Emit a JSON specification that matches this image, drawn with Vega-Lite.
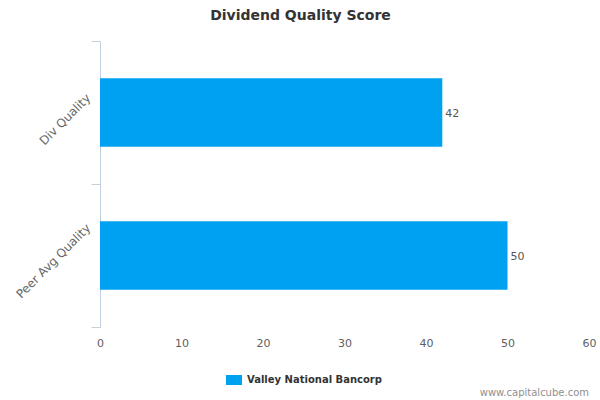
{
  "$schema": "https://vega.github.io/schema/vega-lite/v6.json",
  "width": 489,
  "height": 286,
  "autosize": {"type": "none"},
  "padding": {"left": 100, "top": 41, "right": 11, "bottom": 73},
  "background": "#ffffff",
  "view": {"stroke": null},
  "config": {"font": "DejaVu Sans"},
  "title": {
    "text": "Dividend Quality Score",
    "fontSize": 14,
    "fontWeight": "bold",
    "color": "#333333",
    "anchor": "middle",
    "dx": -44,
    "offset": 14
  },
  "resolve": {"scale": {"y": "independent"}, "axis": {"y": "independent"}},
  "layer": [
    {
      "data": {
        "values": [
          {"category": "Div Quality", "score": 42, "series": "Valley National Bancorp"},
          {"category": "Peer Avg Quality", "score": 50, "series": "Valley National Bancorp"}
        ]
      },
      "resolve": {"scale": {"y": "independent"}, "axis": {"y": "independent"}},
      "layer": [
        {
          "mark": {"type": "bar"},
          "encoding": {
            "y": {
              "field": "category",
              "type": "nominal",
              "sort": null,
              "scale": {"paddingInner": 0.52, "paddingOuter": 0.26},
              "axis": null
            },
            "x": {
              "field": "score",
              "type": "quantitative",
              "scale": {"domain": [0, 60], "nice": false},
              "axis": {
                "title": null,
                "values": [0, 10, 20, 30, 40, 50, 60],
                "grid": false,
                "domain": false,
                "ticks": false,
                "labelFlush": false,
                "labelPadding": 10,
                "labelColor": "#606060",
                "labelFontSize": 11
              }
            },
            "color": {
              "field": "series",
              "type": "nominal",
              "scale": {"range": ["#00a1f1"]},
              "legend": {
                "title": null,
                "orient": "none",
                "legendX": 129,
                "legendY": 334,
                "symbolType": "M-1.6,-1H1.6V1H-1.6Z",
                "symbolSize": 100,
                "symbolStrokeWidth": 0,
                "labelOffset": 8,
                "labelFontSize": 10,
                "labelFontWeight": "bold",
                "labelColor": "#333333"
              }
            }
          }
        },
        {
          "mark": {"type": "text", "align": "left", "baseline": "middle", "dx": 3, "dy": 1, "fontSize": 11, "color": "#555555"},
          "encoding": {
            "y": {
              "field": "category",
              "type": "nominal",
              "sort": null,
              "scale": {"paddingInner": 0, "paddingOuter": 0},
              "axis": {
                "title": null,
                "tickBand": "extent",
                "domainColor": "#c0d0e0",
                "tickColor": "#c0d0e0",
                "tickSize": 9,
                "labelAngle": -45,
                "labelAlign": "right",
                "labelBaseline": "middle",
                "labelPadding": 3,
                "labelOffset": {"condition": {"test": "datum.value == 'Div Quality'", "value": -17}, "value": -30},
                "labelColor": "#666666",
                "labelFontSize": 12
              }
            },
            "x": {"field": "score", "type": "quantitative"},
            "text": {"field": "score", "type": "quantitative"}
          }
        }
      ]
    },
    {
      "data": {"values": [{"note": "www.capitalcube.com"}]},
      "mark": {"type": "text", "align": "right", "baseline": "alphabetic", "dy": 212, "fontSize": 10, "color": "#909090"},
      "encoding": {
        "x": {"datum": 60},
        "text": {"field": "note", "type": "nominal"}
      }
    }
  ]
}
